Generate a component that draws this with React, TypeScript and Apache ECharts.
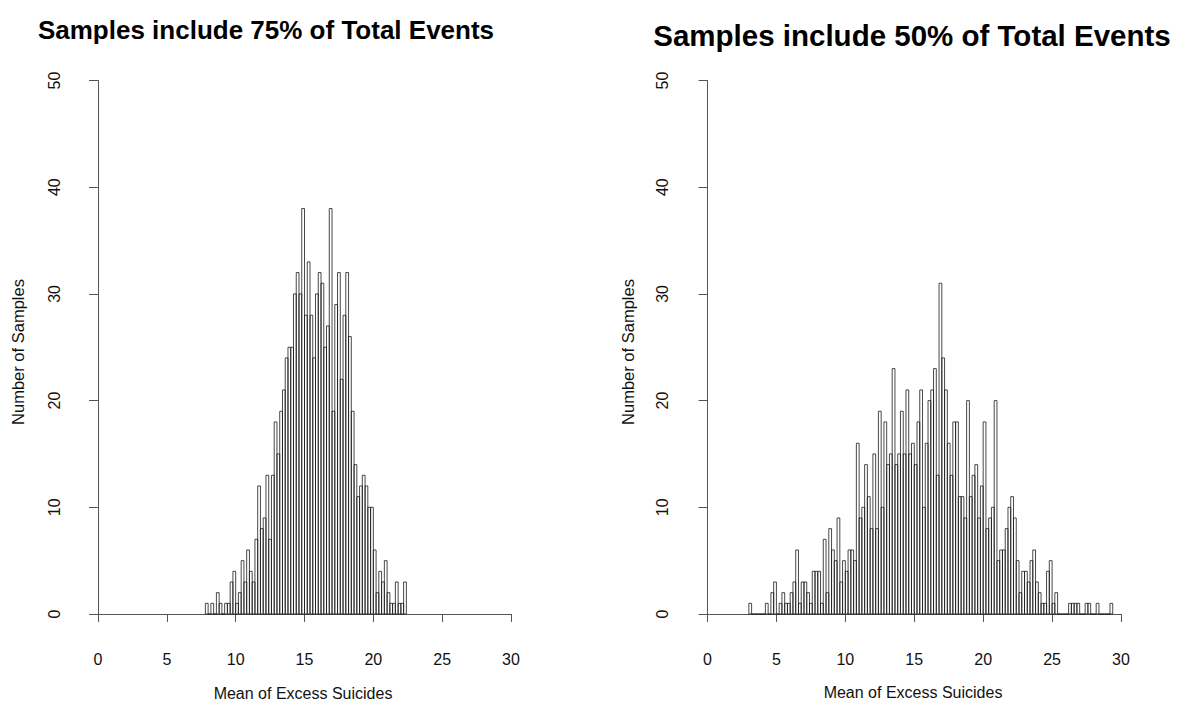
import React, { useEffect, useRef } from "react";
import * as echarts from "echarts";

// Histogram bins: width 0.2, first bin start given below
const binWidth = 0.2;

const leftTitle = "Samples include 75% of Total Events";
const leftStart = 7.8;
const leftCounts = [
  1, 0, 1, 0, 2, 1, 0, 1, 1, 3, 4, 1, 2, 5, 3, 6, 4, 3, 7, 12, 8, 9, 13, 7, 13,
  18, 15, 19, 21, 24, 25, 25, 30, 32, 30, 38, 28, 33, 28, 24, 30, 32, 31, 25, 27,
  38, 19, 29, 32, 22, 28, 32, 26, 19, 14, 11, 12, 13, 12, 10, 10, 6, 2, 4, 3, 5,
  2, 1, 1, 3, 1, 1, 3,
];

const rightTitle = "Samples include 50% of Total Events";
const rightStart = 3.0;
const rightCounts = [
  1, 0, 0, 0, 0, 0, 1, 0, 2, 3, 0, 1, 2, 1, 1, 2, 3, 6, 1, 3, 3, 2, 1, 4, 4, 4,
  1, 7, 2, 8, 6, 5, 9, 3, 5, 4, 6, 6, 5, 16, 9, 10, 14, 11, 8, 15, 8, 19, 10, 18,
  14, 15, 23, 14, 15, 19, 15, 21, 15, 16, 14, 18, 21, 10, 16, 20, 21, 23, 13, 31,
  24, 21, 16, 13, 18, 18, 11, 11, 9, 20, 11, 13, 14, 9, 12, 18, 8, 9, 10, 20, 5,
  6, 6, 8, 10, 11, 9, 5, 2, 4, 4, 3, 5, 6, 3, 2, 1, 1, 4, 5, 1, 2, 0, 0, 0, 0, 1,
  1, 1, 1, 0, 0, 1, 1, 0, 0, 1, 0, 0, 0, 0, 1,
];

const xTicks = { min: 0, max: 30, interval: 5 };
const yTicks = { min: 0, max: 50, interval: 10 };
const xLabel = "Mean of Excess Suicides";
const yLabel = "Number of Samples";

function toBins(start: number, counts: number[]) {
  return counts.map((c, i) => [Math.round((start + i * binWidth) * 10) / 10, c]);
}

const FONT = "'Liberation Sans', Arial, Helvetica, sans-serif";
const AXIS_COLOR = "#555";
const TEXT_COLOR = "#111";

export default function App() {
  const ref = useRef<HTMLDivElement>(null);
  useEffect(() => {
    document.body.style.margin = "0";
    if (!ref.current) return;
    const chart = echarts.init(ref.current, null, { renderer: "svg" });

    const renderItem = (params: any, api: any) => {
      const x0 = api.value(0);
      const y = api.value(1);
      const p0 = api.coord([x0, y]);
      const p1 = api.coord([x0 + binWidth, 0]);
      return {
        type: "rect",
        shape: { x: p0[0], y: p0[1], width: p1[0] - p0[0], height: p1[1] - p0[1] },
        style: { fill: "rgba(255,255,255,0)", stroke: "#1a1a1a", lineWidth: 0.8 },
      };
    };

    const grids = [
      { left: 98, top: 80.5, width: 413, height: 533.5 },
      { left: 707.5, top: 80.5, width: 413.5, height: 533.5 },
    ];

    const mkX = (gi: number) => ({
      type: "value",
      gridIndex: gi,
      ...xTicks,
      offset: 22,
      axisLine: { show: true, lineStyle: { color: AXIS_COLOR, width: 1 } },
      axisTick: { show: true, length: 8, lineStyle: { color: AXIS_COLOR } },
      axisLabel: { fontSize: 16, color: TEXT_COLOR, fontFamily: FONT, margin: 15 },
      splitLine: { show: false },
    });
    const mkY = (gi: number, off: number) => ({
      type: "value",
      gridIndex: gi,
      ...yTicks,
      offset: off,
      axisLine: { show: true, lineStyle: { color: AXIS_COLOR, width: 1 } },
      axisTick: { show: true, length: 9, lineStyle: { color: AXIS_COLOR } },
      axisLabel: { fontSize: 16, color: TEXT_COLOR, fontFamily: FONT, rotate: 90, margin: 20 },
      splitLine: { show: false },
    });

    chart.setOption({
      animation: false,
      backgroundColor: "#fff",
      grid: grids,
      xAxis: [mkX(0), mkX(1)],
      yAxis: [mkY(0, 16), mkY(1, 17)],
      series: [
        {
          type: "custom",
          xAxisIndex: 0,
          yAxisIndex: 0,
          renderItem,
          data: toBins(leftStart, leftCounts),
        },
        {
          type: "custom",
          xAxisIndex: 1,
          yAxisIndex: 1,
          renderItem,
          data: toBins(rightStart, rightCounts),
        },
      ],
      graphic: [
        {
          type: "text",
          x: 266,
          y: 30,
          style: {
            text: leftTitle,
            font: `bold 26px ${FONT}`,
            fill: "#000",
            textAlign: "center",
            textVerticalAlign: "middle",
          },
        },
        {
          type: "text",
          x: 912,
          y: 35,
          style: {
            text: rightTitle,
            font: `bold 29.5px ${FONT}`,
            fill: "#000",
            textAlign: "center",
            textVerticalAlign: "middle",
          },
        },
        {
          type: "text",
          x: 303,
          y: 693,
          style: { text: xLabel, font: `16px ${FONT}`, fill: TEXT_COLOR, textAlign: "center", textVerticalAlign: "middle" },
        },
        {
          type: "text",
          x: 913,
          y: 692,
          style: { text: xLabel, font: `16px ${FONT}`, fill: TEXT_COLOR, textAlign: "center", textVerticalAlign: "middle" },
        },
        {
          type: "text",
          x: 18,
          y: 352,
          rotation: Math.PI / 2,
          style: { text: yLabel, font: `16.5px ${FONT}`, fill: TEXT_COLOR, textAlign: "center", textVerticalAlign: "middle" },
        },
        {
          type: "text",
          x: 628,
          y: 352,
          rotation: Math.PI / 2,
          style: { text: yLabel, font: `16.5px ${FONT}`, fill: TEXT_COLOR, textAlign: "center", textVerticalAlign: "middle" },
        },
      ],
    });
    return () => chart.dispose();
  }, []);
  return <div ref={ref} style={{ width: 1177, height: 702 }} />;
}
